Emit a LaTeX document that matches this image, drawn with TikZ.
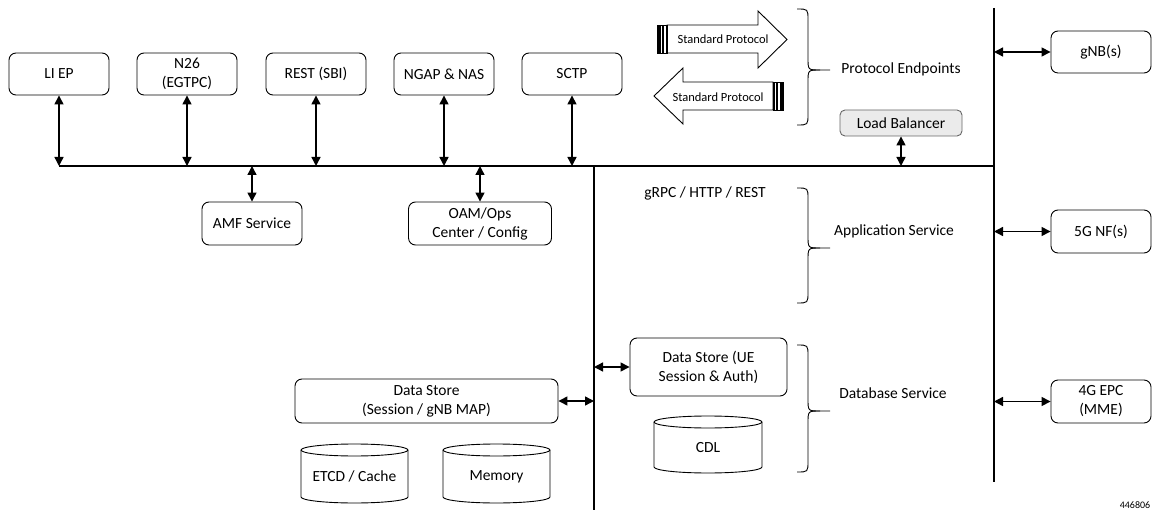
\documentclass[tikz,border=0pt]{standalone}
\usepackage{fontspec}
\setmainfont{Carlito}
\usetikzlibrary{arrows.meta}
\newcommand\fs{\fontsize{15.5}{19}\selectfont}
\newcommand\fss{\fontsize{12.5}{15}\selectfont}
\newcommand\mycyl[6]{%
  \pgfmathsetmacro\cx{(#2+#3)/2}%
  \pgfmathsetmacro\rx{(#3-#2)/2}%
  \filldraw[fill=white, line width=0.9pt] (#2,#4+6) -- (#2,#5-6)
    arc[start angle=180,end angle=360,x radius=\rx pt,y radius=6pt] -- (#3,#4+6)
    arc[start angle=0,end angle=180,x radius=\rx pt,y radius=6pt] -- cycle;
  \draw[line width=0.9pt] (#2,#4+6) arc[start angle=180,end angle=360,x radius=\rx pt,y radius=6pt];
  \node[font=\fs] (#1) at (\cx,{(#4+#5)/2+3}) {#6};
}
\newcommand\mybrace[3]{%
  \draw[line width=0.9pt] (797,#1) .. controls (808,#1) .. (808,#1+11) -- (808,#3-12) .. controls (808,#3) .. (820,#3) -- (830,#3);
  \draw[line width=0.9pt] (820,#3) .. controls (808,#3) .. (808,#3+12) -- (808,#2-11) .. controls (808,#2) .. (797,#2);
}
\tikzset{
  box/.style={draw, rounded corners=7pt, line width=0.9pt, align=center, inner sep=0pt, font=\fs},
  arr/.style={{Triangle[length=9pt,width=9pt]}-{Triangle[length=9pt,width=9pt]}, line width=1.4pt},
  bus/.style={line width=2.4pt},
  lbl/.style={font=\fs, inner sep=0pt},
  blk/.style={fill=white, draw, line width=0.9pt, line join=miter}
}
\begin{document}
\begin{tikzpicture}[x=1pt,y=-1pt]
\useasboundingbox (0,0) rectangle (1155,510);

% bus lines
\coordinate (busL) at (59,166);
\coordinate (busR) at (994,166);
\coordinate (divT) at (594,166);
\coordinate (divB) at (594,510);
\coordinate (rT) at (994,8);
\coordinate (rB) at (994,482);
\draw[bus] (busL) -- (busR);
\draw[bus] (divT) -- (divB);
\draw[bus] (rT) -- (rB);

% top boxes
\node[box, minimum width=100pt, minimum height=42pt] (liep) at (59,74) {LI EP};
\node[box, minimum width=100pt, minimum height=42pt] (n26) at (187,74) {N26\\(EGTPC)};
\node[box, minimum width=100pt, minimum height=42pt] (rest) at (316,74) {REST (SBI)};
\node[box, minimum width=100pt, minimum height=42pt] (ngap) at (444,74) {NGAP \& NAS};
\node[box, minimum width=100pt, minimum height=42pt] (sctp) at (572,74) {SCTP};
\foreach \n in {liep,n26,rest,ngap,sctp}
  \draw[arr] (\n.south) -- (\n.south |- busL);

% lower service boxes
\node[box, minimum width=100pt, minimum height=43pt] (amf) at (252,223.5) {AMF Service};
\node[box, minimum width=143pt, minimum height=43pt] (oam) at (480,223.5) {OAM/Ops\\Center / Config};
\draw[arr] (amf.north) -- (amf.north |- busL);
\draw[arr] (oam.north) -- (oam.north |- busL);

% load balancer
\node[box, rounded corners=5pt, draw=black!60, fill=black!8, minimum width=122pt, minimum height=26pt] (lb) at (901,123) {Load Balancer};
\draw[arr] (lb.south) -- (lb.south |- busL);

% block arrows
\draw[blk] (667,25) -- (758,25) -- (758,11) -- (787,39.5) -- (758,68) -- (758,53) -- (667,53) -- cycle;
\draw[line width=0.9pt] (657,25) rectangle (667,53);
\fill (657,25) rectangle (660.5,53);
\fill (662.3,25) rectangle (663.8,53);
\fill (665.5,25) rectangle (667,53);
\node[font=\fss, inner sep=0pt] (sp1) at (723,39) {Standard Protocol};

\draw[blk] (654,96) -- (683,68) -- (683,82) -- (773,82) -- (773,110) -- (683,110) -- (683,124) -- cycle;
\draw[line width=0.9pt] (773,82) rectangle (783,110);
\fill (779.5,82) rectangle (783,110);
\fill (776.2,82) rectangle (777.7,110);
\fill (773,82) rectangle (774.5,110);
\node[font=\fss, inner sep=0pt] (sp2) at (718,97) {Standard Protocol};

% braces and labels
\mybrace{9}{125}{70}
\mybrace{188}{303}{248}
\mybrace{345}{472}{411}
\node[lbl] (pe) at (901,69) {Protocol Endpoints};
\node[lbl] (as) at (894,231) {Application Service};
\node[lbl] (ds) at (893,393) {Database Service};
\node[lbl] (grpc) at (705,193) {gRPC / HTTP / REST};

% data stores
\node[box, minimum width=157pt, minimum height=58pt] (dsue) at (708.5,367) {Data Store (UE\\Session \& Auth)};
\draw[arr] (dsue.west) -- (dsue.west -| divT);
\node[box, minimum width=263pt, minimum height=44pt] (dss) at (426.5,401) {Data Store\\(Session / gNB MAP)};
\draw[arr] (dss.east) -- (dss.east -| divT);

\mycyl{cdl}{654}{762}{416}{473}{CDL}
\mycyl{etcd}{301}{408}{444}{503}{ETCD / Cache}
\mycyl{mem}{443}{550}{444}{503}{Memory}

% right boxes
\node[box, minimum width=100pt, minimum height=42pt] (gnb) at (1101,52) {gNB(s)};
\node[box, minimum width=100pt, minimum height=43pt] (nf5g) at (1101,231.5) {5G NF(s)};
\node[box, minimum width=100pt, minimum height=43pt] (epc) at (1101,401.5) {4G EPC\\(MME)};
\foreach \n in {gnb,nf5g,epc}
  \draw[arr] (\n.west) -- (\n.west -| rT);

\node[font=\fontsize{10}{12}\selectfont, anchor=south, inner sep=0pt] (num) at (1135,509) {446806};
\end{tikzpicture}
\end{document}
